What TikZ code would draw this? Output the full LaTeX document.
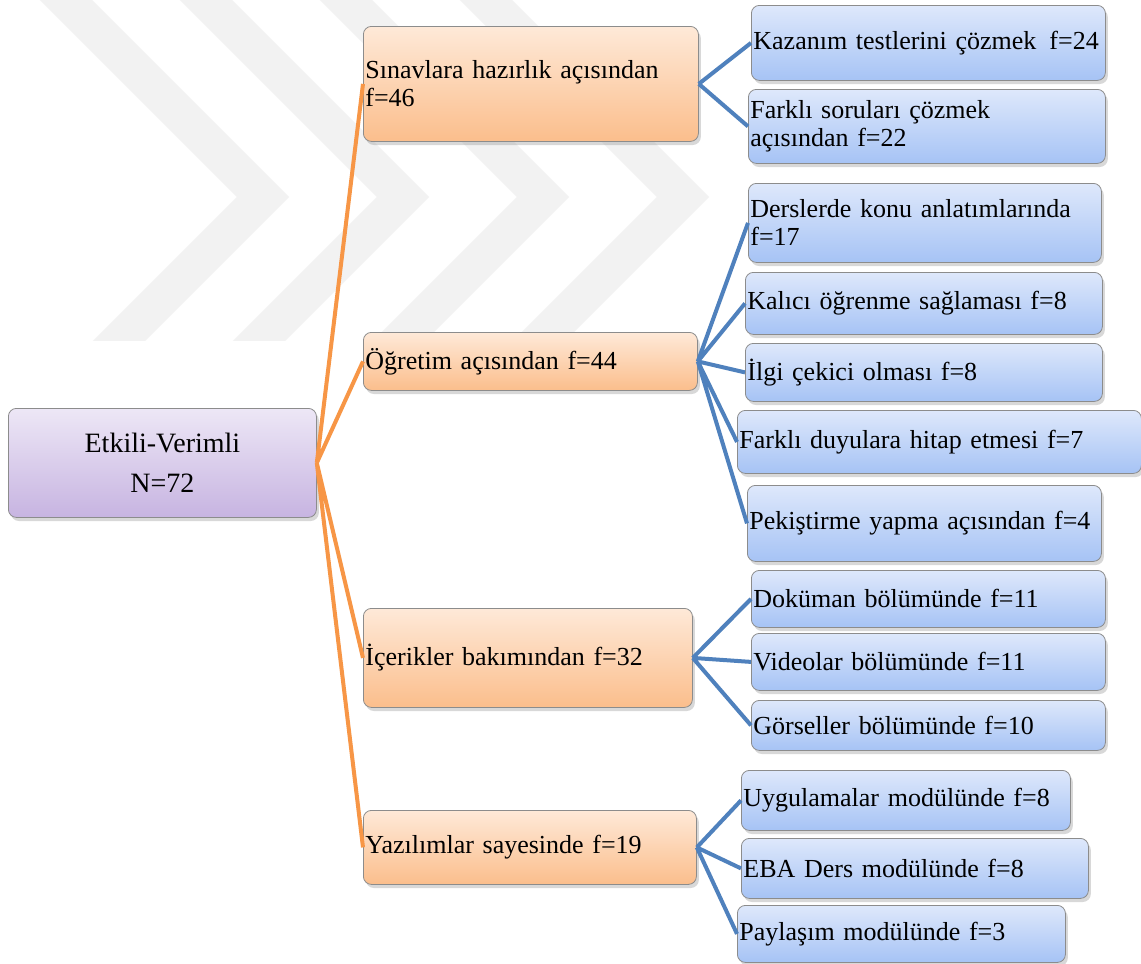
\documentclass[tikz,border=0pt]{standalone}
\usepackage{fontspec}
\setmainfont{Liberation Serif}
\usetikzlibrary{shadows}
\definecolor{rootlight}{RGB}{237,231,246}
\definecolor{rootdark}{RGB}{199,180,225}
\definecolor{aspectlight}{RGB}{254,233,216}
\definecolor{aspectdark}{RGB}{251,190,140}
\definecolor{detaillight}{RGB}{222,232,251}
\definecolor{detaildark}{RGB}{166,195,245}
\definecolor{orangeline}{RGB}{247,150,70}
\definecolor{blueline}{RGB}{79,129,189}
\definecolor{markgray}{RGB}{242,242,242}
\tikzset{
    basebox/.style={draw=black!45, rounded corners=4pt, anchor=north west, inner xsep=1pt, inner ysep=1pt, align=left, font=\fontsize{13}{14}\selectfont, drop shadow={shadow xshift=1.2pt, shadow yshift=-1.8pt, opacity=0.3}},
    rootbox/.style={basebox, top color=rootlight, bottom color=rootdark, align=center, font=\fontsize{14}{20}\selectfont},
    aspectbox/.style={basebox, top color=aspectlight, bottom color=aspectdark},
    detailbox/.style={basebox, top color=detaillight, bottom color=detaildark},
    boxsize/.style 2 args={text width=#1, minimum height=#2},
    rootline/.style={draw=orangeline, line width=2pt},
    branchline/.style={draw=blueline, line width=2pt}
}
\begin{document}
\begin{tikzpicture}[x=0.5pt, y=-0.5pt]
    \useasboundingbox[fill=white] (0,0) rectangle (1141,964);
    % faint watermark behind the tree
    \begin{scope}
        \clip (0,0) rectangle (1141,340);
        \foreach \a in {66,206,346,486}
            \draw[markgray, line width=18.5pt, line join=miter] (\a-30,-30) -- (\a+197,197) -- (\a+394-380,380);
    \end{scope}

    \node[rootbox, boxsize={152pt}{54.5pt}] (root) at (8,408) {Etkili-Verimli\\N=72};

    \node[aspectbox, boxsize={165.5pt}{57.5pt}] (sinav) at (363,26) {Sınavlara hazırlık açısından\\f=46};
    \node[aspectbox, boxsize={165pt}{29pt}] (ogretim) at (363,332) {Öğretim açısından f=44};
    \node[aspectbox, boxsize={162.5pt}{49.5pt}] (icerik) at (363,608) {İçerikler bakımından f=32};
    \node[aspectbox, boxsize={164.5pt}{37pt}] (yazilim) at (363,810) {Yazılımlar sayesinde f=19};

    \node[detailbox, boxsize={175pt}{37.5pt}] (kazanim) at (751,5) {Kazanım testlerini çözmek\, f=24};
    \node[detailbox, boxsize={176.5pt}{37pt}] (farklisoru) at (748,89) {Farklı soruları çözmek\\açısından f=22};

    \node[detailbox, boxsize={174.5pt}{39.5pt}] (ders) at (748,183) {Derslerde konu anlatımlarında\\f=17};
    \node[detailbox, boxsize={176.5pt}{31pt}] (kalici) at (745,272) {Kalıcı öğrenme sağlaması f=8};
    \node[detailbox, boxsize={176.5pt}{29pt}] (ilgi) at (745,343) {İlgi çekici olması f=8};
    \node[detailbox, boxsize={200pt}{31.5pt}] (duyu) at (737,410) {Farklı duyulara hitap etmesi f=7};
    \node[detailbox, boxsize={175pt}{38pt}] (pekistirme) at (747,485) {Pekiştirme yapma açısından f=4};

    \node[detailbox, boxsize={175pt}{28.5pt}] (dokuman) at (751,570) {Doküman bölümünde f=11};
    \node[detailbox, boxsize={175pt}{28.5pt}] (video) at (751,633) {Videolar bölümünde f=11};
    \node[detailbox, boxsize={175pt}{25pt}] (gorsel) at (751,700) {Görseller bölümünde f=10};

    \node[detailbox, boxsize={162.5pt}{30pt}] (uygulama) at (741,770) {Uygulamalar modülünde f=8};
    \node[detailbox, boxsize={171.5pt}{30pt}] (eba) at (741,838) {EBA Ders modülünde f=8};
    \node[detailbox, boxsize={162pt}{28.5pt}] (paylasim) at (737,905) {Paylaşım modülünde f=3};

    \draw[rootline] (root.east) -- (sinav.west) (root.east) -- (ogretim.west)
        (root.east) -- (icerik.west) (root.east) -- (yazilim.west);

    \draw[branchline] (sinav.east) -- (kazanim.west) (sinav.east) -- (farklisoru.west);
    \draw[branchline] (ogretim.east) -- (ders.west) (ogretim.east) -- (kalici.west)
        (ogretim.east) -- (ilgi.west) (ogretim.east) -- (duyu.west)
        (ogretim.east) -- (pekistirme.west);
    \draw[branchline] (icerik.east) -- (dokuman.west) (icerik.east) -- (video.west)
        (icerik.east) -- (gorsel.west);
    \draw[branchline] (yazilim.east) -- (uygulama.west) (yazilim.east) -- (eba.west)
        (yazilim.east) -- (paylasim.west);
\end{tikzpicture}
\end{document}
